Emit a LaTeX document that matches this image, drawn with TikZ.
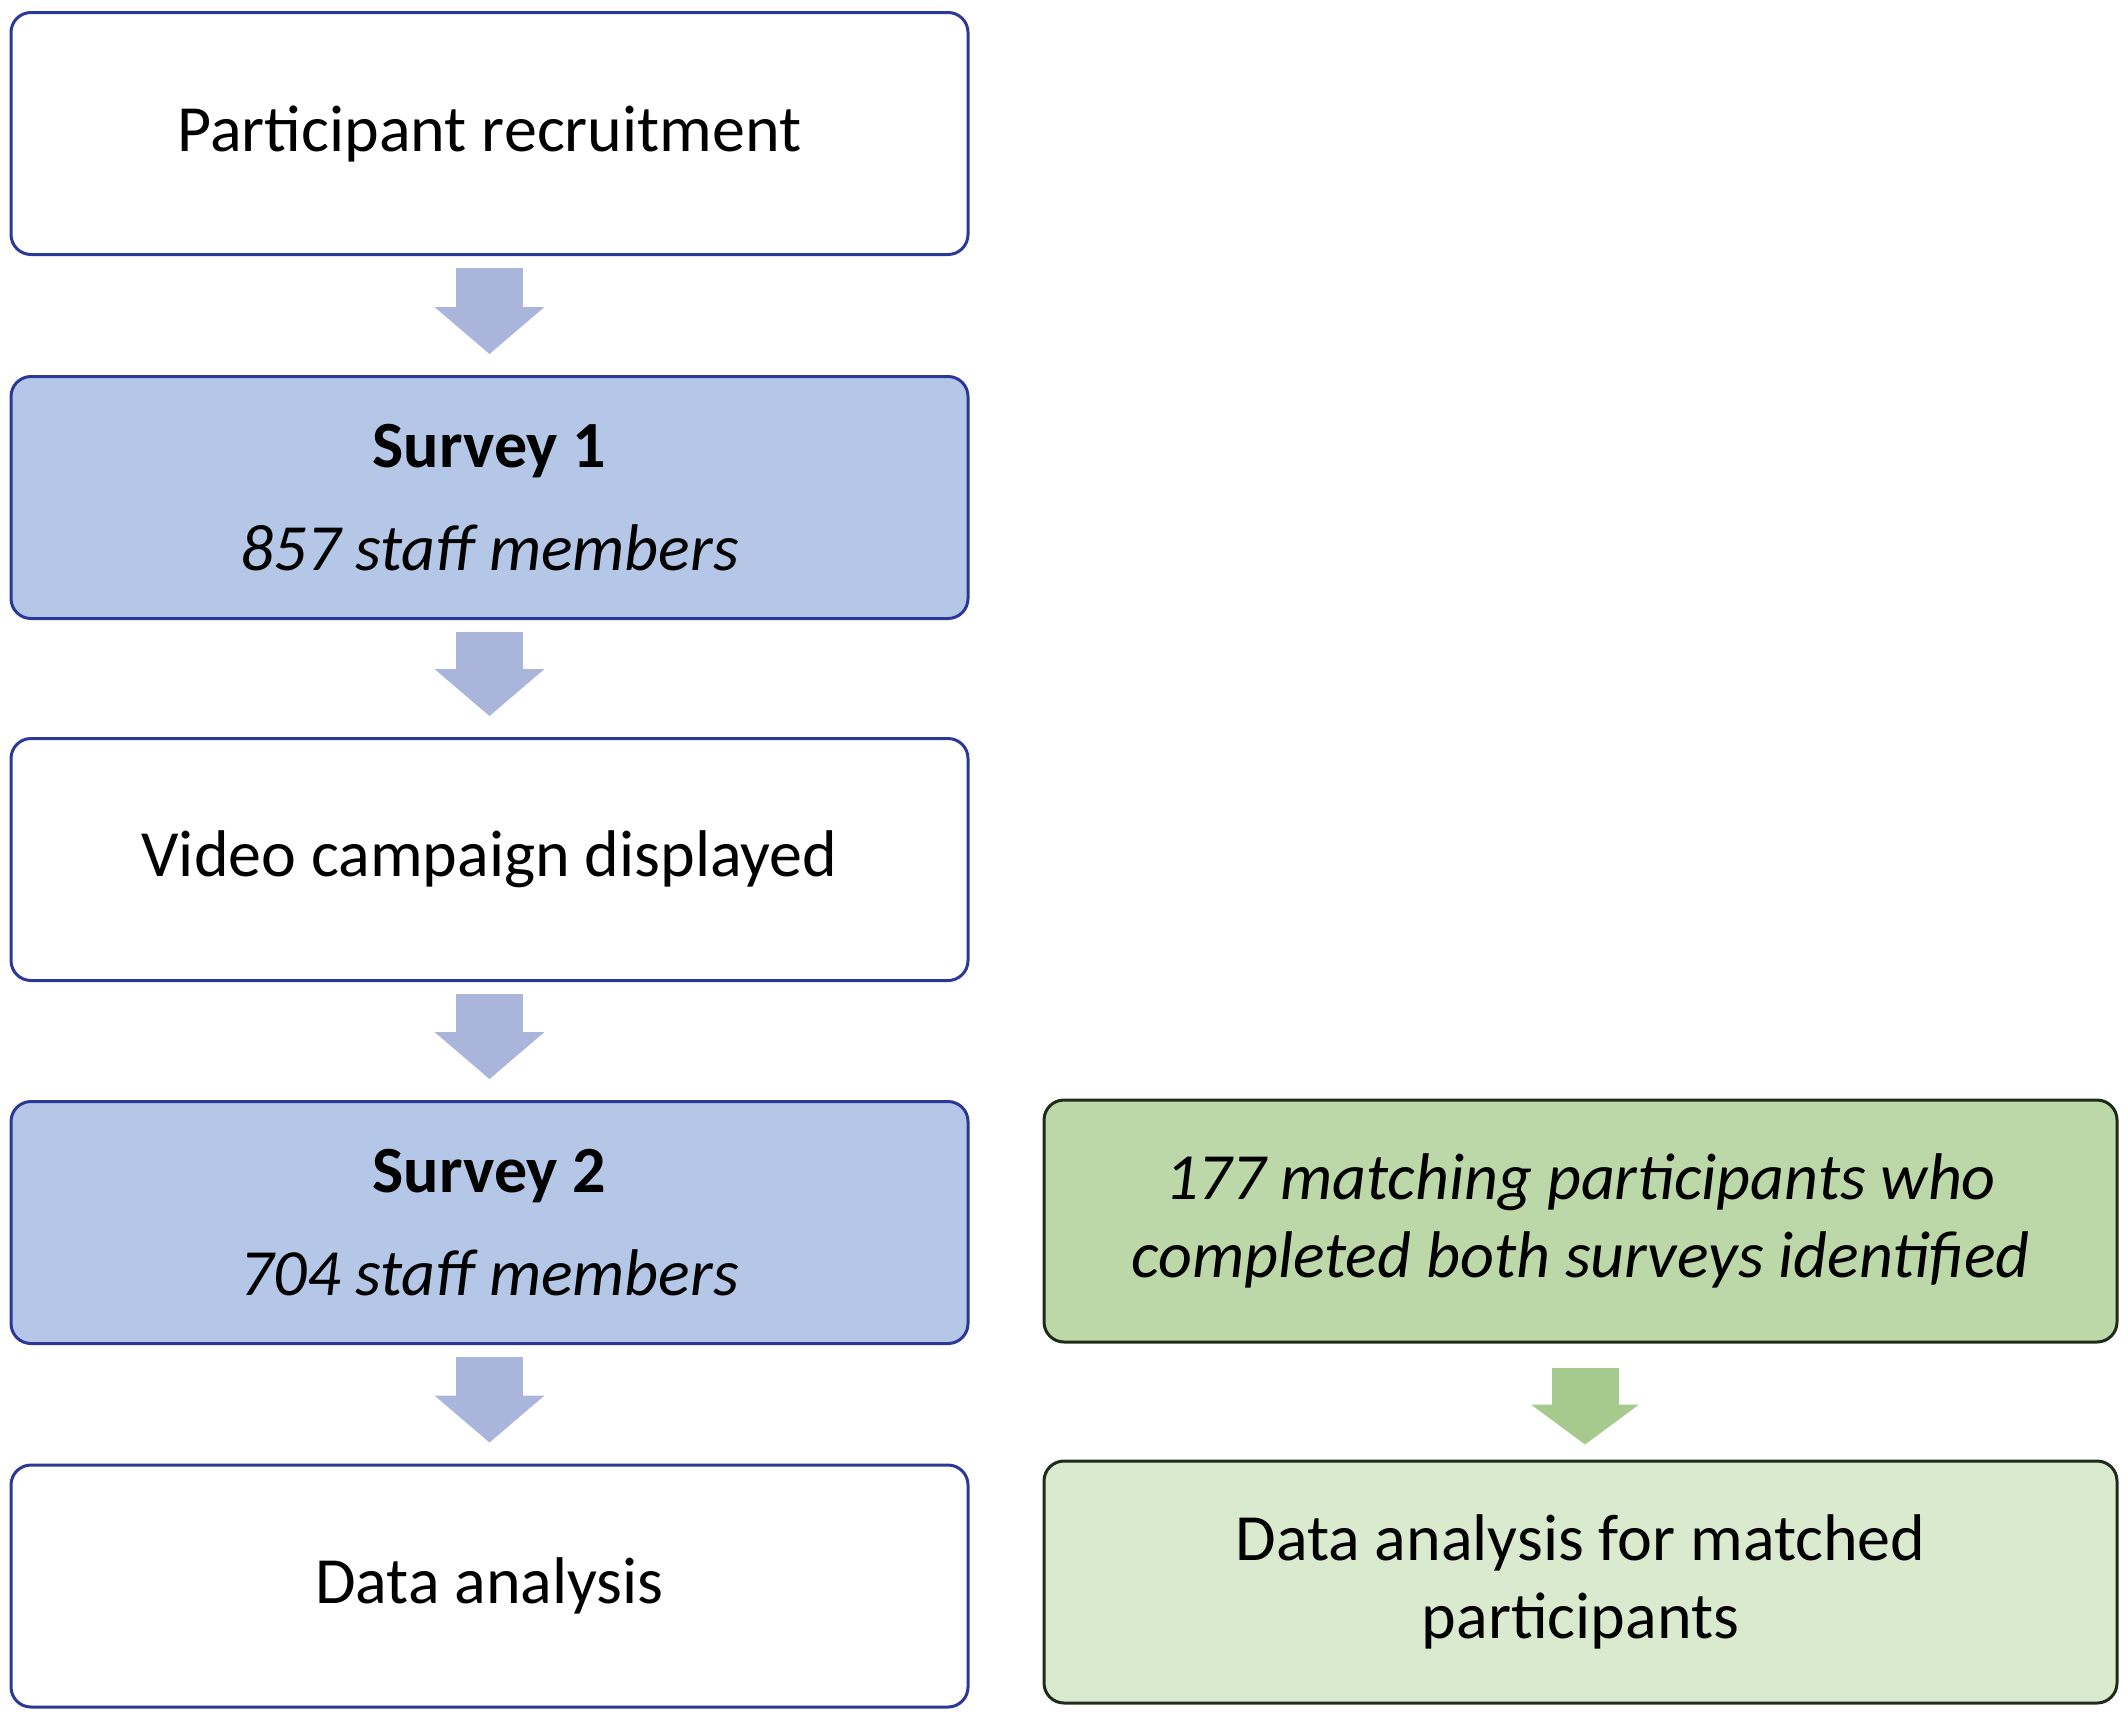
\documentclass[tikz,border=0pt]{standalone}
\usepackage{fontspec}
\setmainfont{Carlito}
\usetikzlibrary{arrows.meta}
\definecolor{blueborder}{RGB}{44,56,150}
\definecolor{bluefill}{RGB}{180,199,231}
\definecolor{bluearrow}{RGB}{170,181,220}
\definecolor{greenborder}{RGB}{32,42,26}
\definecolor{greenfillA}{RGB}{188,215,168}
\definecolor{greenfillB}{RGB}{218,234,206}
\definecolor{greenarrow}{RGB}{166,201,141}
\begin{document}
\begin{tikzpicture}[x=0.5pt,y=-0.5pt,
  box/.style={draw=blueborder,line width=1.5pt,rounded corners=10pt,
    minimum width=478.5pt,minimum height=121pt,align=center,inner sep=0pt,
    font=\fontsize{33}{39}\selectfont},
  whitebox/.style={box,fill=white},
  bluebox/.style={box,fill=bluefill},
  greenbox/.style={box,draw=greenborder,minimum width=536.5pt},
  flowarrow/.style={draw=bluearrow,line width=33.5pt,
    -{Triangle[width=55pt,length=23.5pt,line width=0pt]},
    shorten <=6pt,shorten >=10.5pt},
  greenflow/.style={flowarrow,draw=greenarrow,
    -{Triangle[width=54pt,length=20pt,line width=0pt]},
    shorten <=12pt,shorten >=7.5pt}]
\useasboundingbox (0,0) rectangle (2128,1719);
\node[whitebox] (recruit) at (489.5,133.5) {Participant recruitment};
\node[bluebox] (s1) at (489.5,497.5) {\textbf{Survey 1}\\[12.5pt]\textit{857 staff members}};
\node[whitebox] (video) at (489.5,859.5) {Video campaign displayed};
\node[bluebox] (s2) at (489.5,1222.5) {\textbf{Survey 2}\\[12.5pt]\textit{704 staff members}};
\node[whitebox] (da) at (489.5,1586) {Data analysis};
\node[greenbox,fill=greenfillA] (match) at (1580.5,1221) {\textit{177 matching participants who}\\\textit{completed both surveys identified}};
\node[greenbox,fill=greenfillB] (dam) at (1580.5,1582) {Data analysis for matched\\participants};
\draw[flowarrow] (recruit) -- (s1);
\draw[flowarrow] (s1) -- (video);
\draw[flowarrow] (video) -- (s2);
\draw[flowarrow] (s2) -- (da);
\draw[greenflow] ([xshift=2.25pt]match.south) -- ([xshift=2.25pt]dam.north);
\end{tikzpicture}
\end{document}
